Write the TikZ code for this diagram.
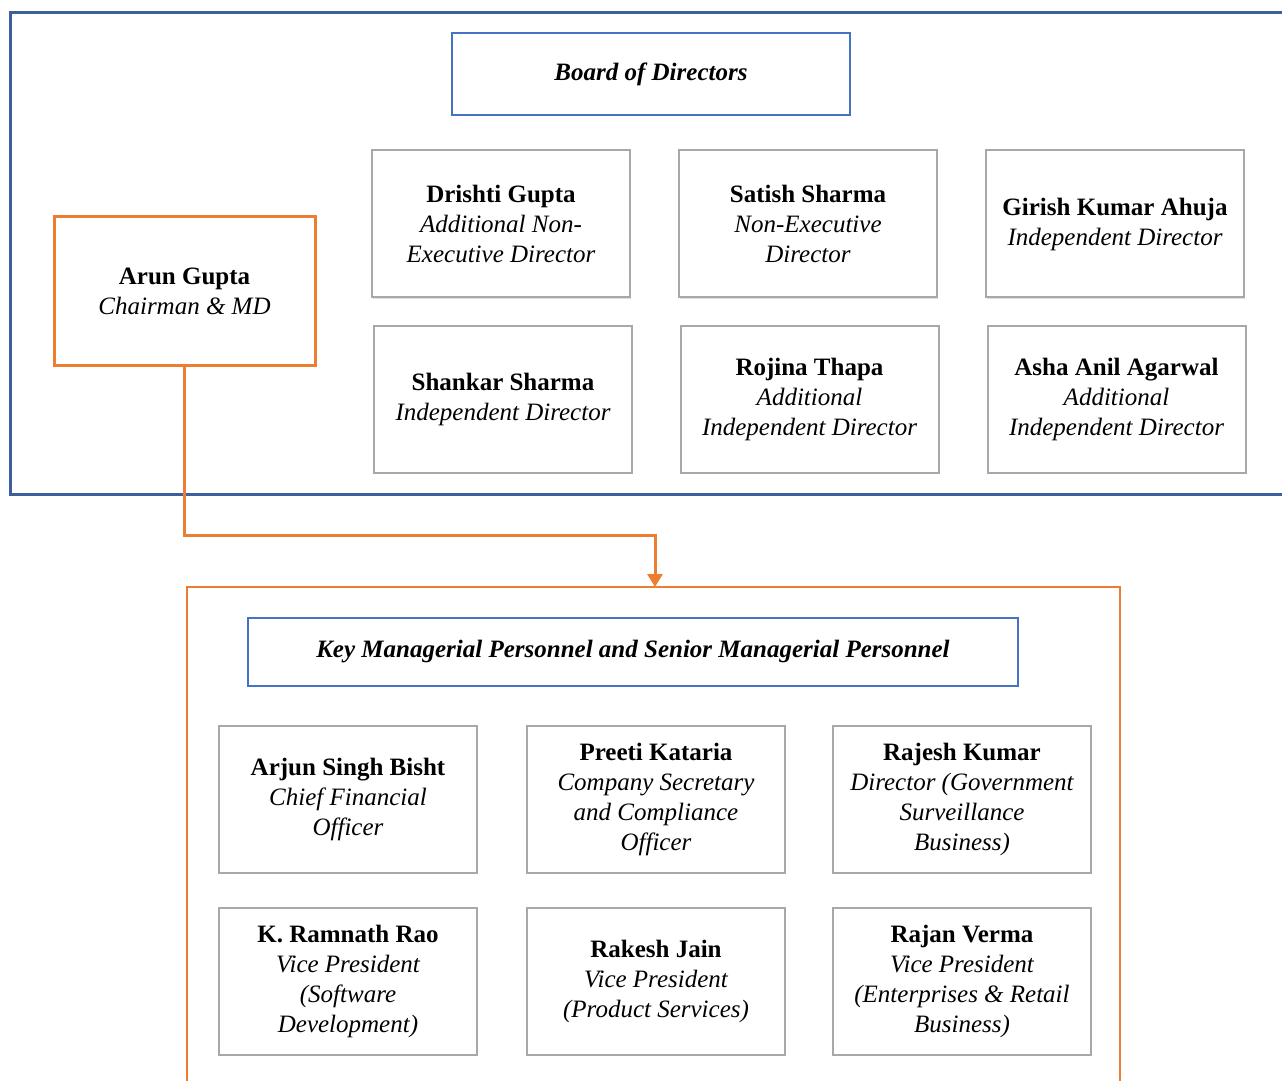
\documentclass[tikz,border=0pt]{standalone}
\usepackage{fontspec}
\setmainfont{Liberation Serif}
\usetikzlibrary{arrows.meta}
\usetikzlibrary{shadows}
\definecolor{frameblue}{HTML}{3E5F9E}
\definecolor{titleblue}{HTML}{4472C4}
\definecolor{kmporange}{HTML}{ED7D31}
\definecolor{boxgray}{HTML}{A8A8A8}
\tikzstyle{every node}=[font=\fontsize{12.5}{15}\selectfont]
\newcommand{\person}[4]{\node[member] (#1) at (#2) {{\upshape\bfseries #3}\\#4};}

\begin{document}
\begin{tikzpicture}[x=0.5pt,y=-0.5pt,line cap=rect,line join=miter]
		\tikzstyle{member} = [draw=boxgray,line width=1pt,fill=white,align=center,
			font=\fontsize{12.5}{15}\selectfont\itshape,
			minimum width=129pt,minimum height=73.5pt,inner sep=2pt,
			drop shadow={shadow xshift=0.6pt,shadow yshift=-0.6pt,opacity=0.25}]
		\tikzstyle{title} = [draw=titleblue,line width=1pt,font=\fontsize{12.5}{15}\selectfont\bfseries\itshape]
		\tikzstyle{link} = [kmporange,line width=1.5pt,-{Triangle[length=6.5pt,width=7.5pt]}]
		
		\clip (0,0) rectangle (1282,1081);
		
		% frames
		\draw[frameblue,line width=1.5pt] (10,13) rectangle (1300,494);
		\draw[kmporange,line width=1pt] (187,587) rectangle (1120,1100);
		\coordinate (kmptop) at (655,587);
		
		% board
		\node[title,minimum width=199pt,minimum height=41pt] (board) at (651,74) {Board of Directors};
		\node[draw=kmporange,line width=1.5pt,align=center,font=\fontsize{12.5}{15}\selectfont\itshape,
			minimum width=130.5pt,minimum height=74.5pt] (arun) at (184.5,291.5)
			{{\upshape\bfseries Arun Gupta}\\Chairman \& MD};
		
		\person{drishti}{501,224}{Drishti Gupta}{Additional Non-\\Executive Director}
		\person{satish}{808,224}{Satish Sharma}{Non-Executive\\Director}
		\person{girish}{1115,224}{Girish Kumar Ahuja}{Independent Director}
		\person{shankar}{503,399.5}{Shankar Sharma}{Independent Director}
		\person{rojina}{809.5,399.5}{Rojina Thapa}{Additional\\Independent Director}
		\person{asha}{1116.5,399.5}{Asha Anil Agarwal}{Additional\\Independent Director}
		
		\draw[link] (arun.south) -- (arun.south |- 0,535) -| (kmptop);
		
		% key managerial personnel
		\node[title,minimum width=385pt,minimum height=34pt] (kmp) at (633,652)
			{Key Managerial Personnel and Senior Managerial Personnel};
		
		\person{arjun}{348,799.5}{Arjun Singh Bisht}{Chief Financial\\Officer}
		\person{preeti}{656,799.5}{Preeti Kataria}{Company Secretary\\and Compliance\\Officer}
		\person{rajesh}{962,799.5}{Rajesh Kumar}{Director (Government\\Surveillance\\Business)}
		\person{ramnath}{348,981.5}{K. Ramnath Rao}{Vice President\\(Software\\Development)}
		\person{rakesh}{656,981.5}{Rakesh Jain}{Vice President\\(Product Services)}
		\person{rajan}{962,981.5}{Rajan Verma}{Vice President\\(Enterprises \& Retail\\Business)}
		
	\end{tikzpicture}
\end{document}
